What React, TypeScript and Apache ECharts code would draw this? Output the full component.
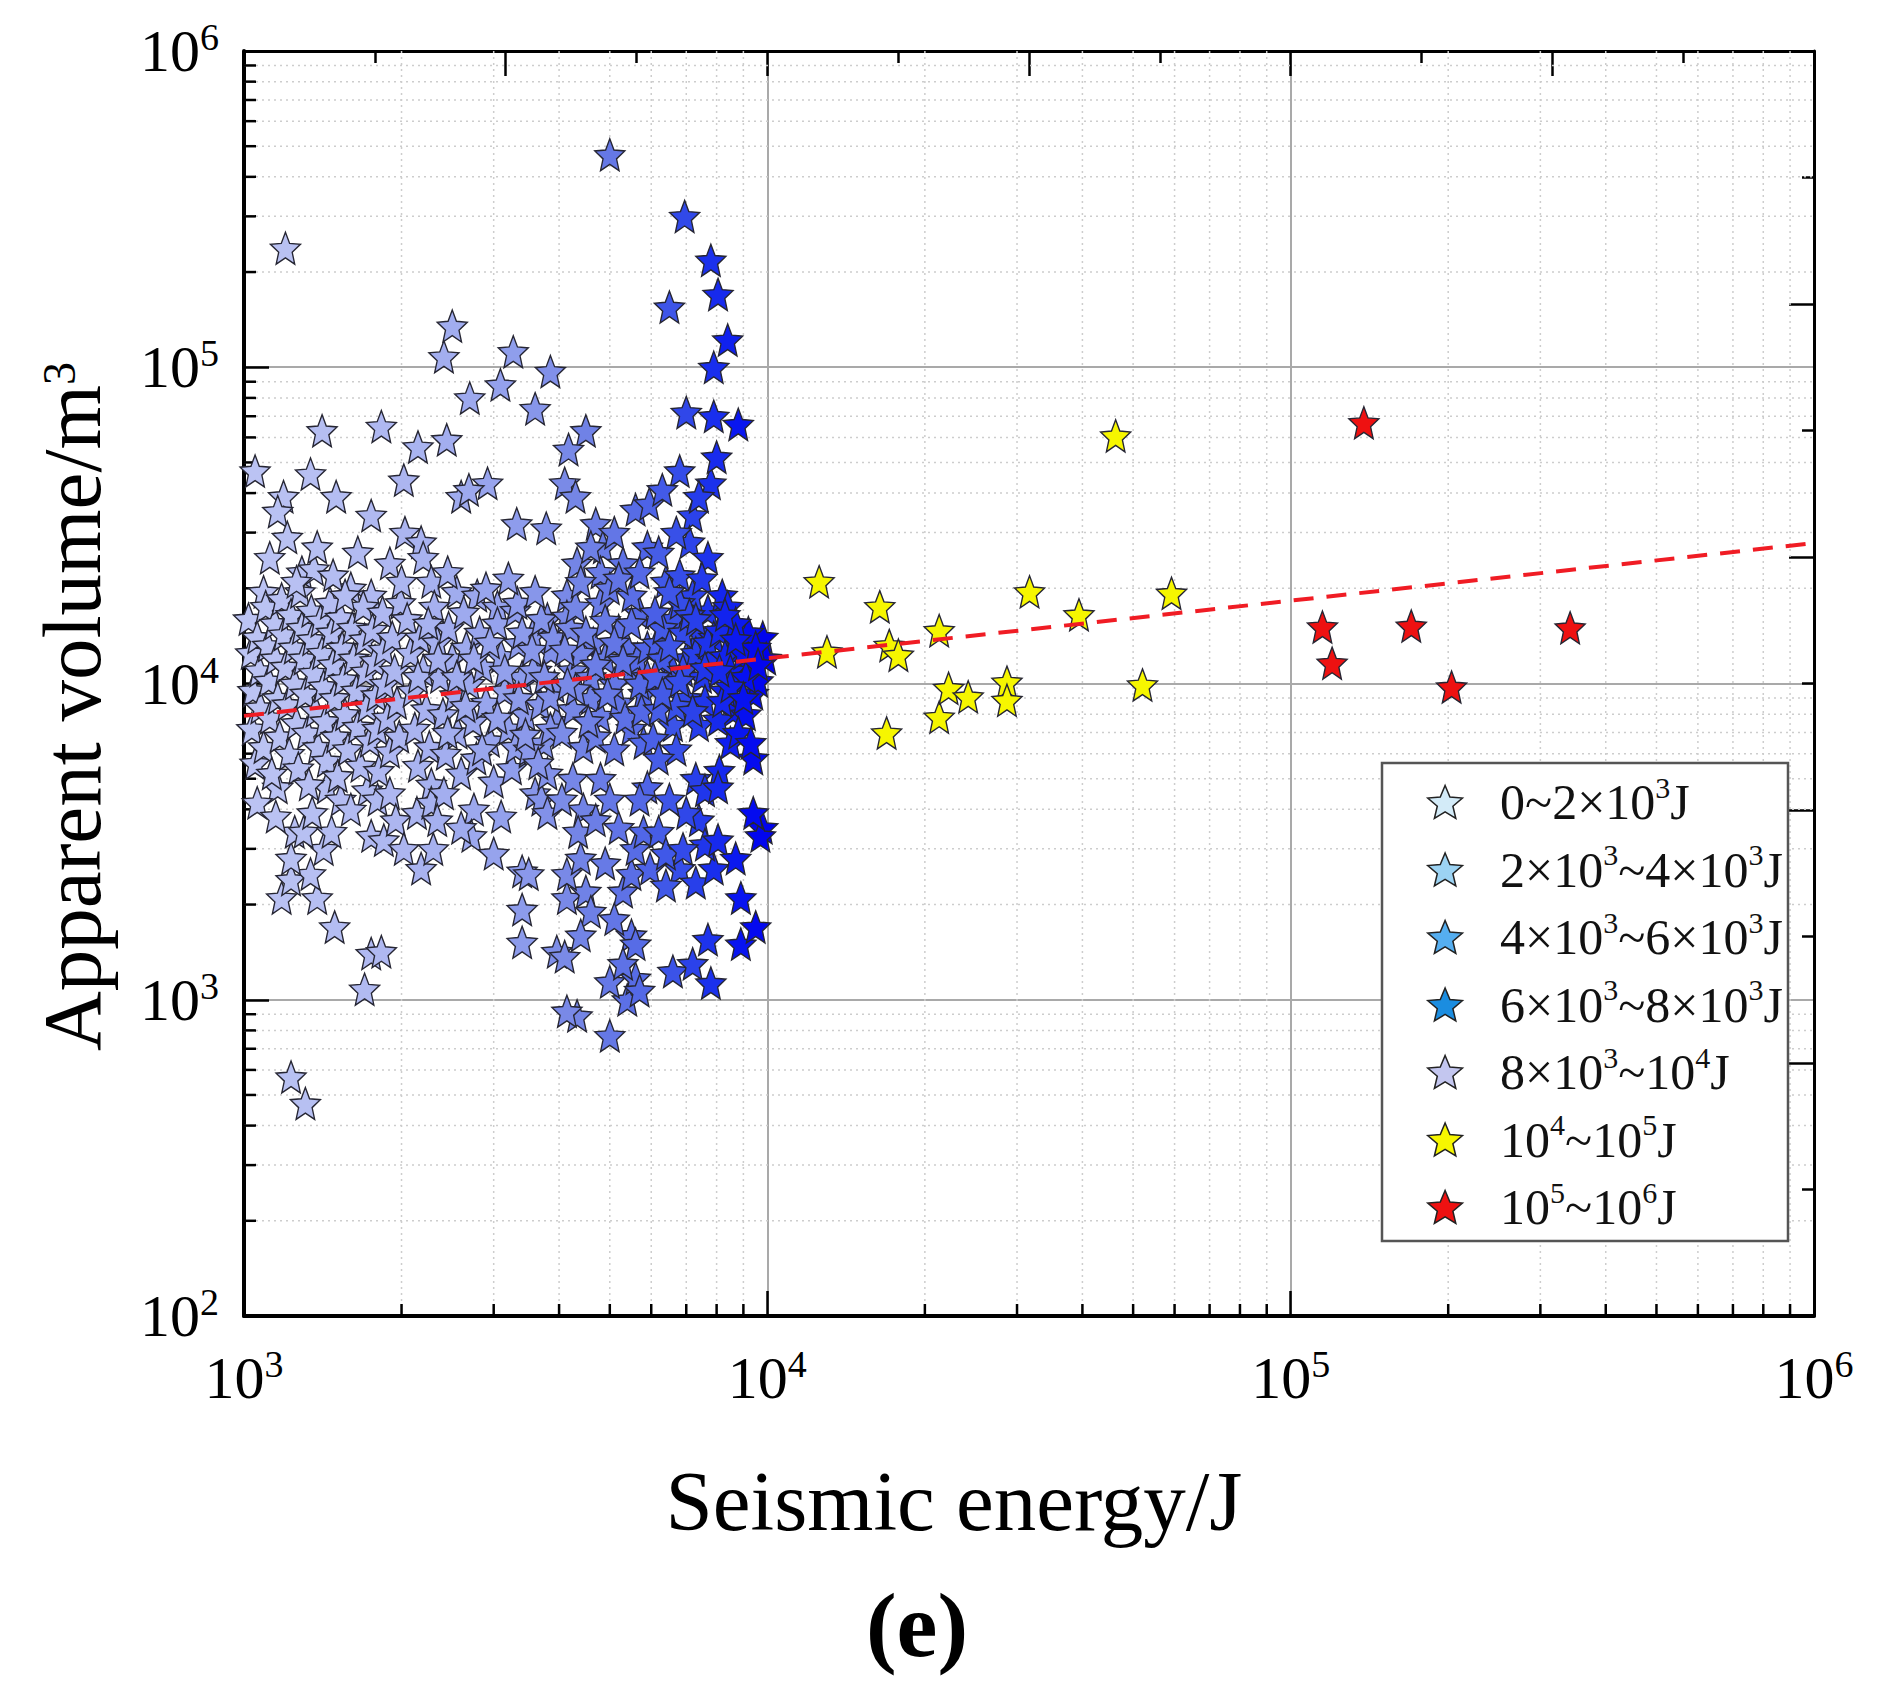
import React, { useEffect, useRef } from 'react';
import * as echarts from 'echarts';

const FONT = '"Liberation Serif", "Times New Roman", Times, serif';
const STAR =
  'path://M50,0 L63.23,31.8 L97.55,34.55 L71.4,56.95 L79.39,90.45 L50,72.5 L20.61,90.45 L28.6,56.95 L2.45,34.55 L36.77,31.8 Z';

const SERIES_NAMES = ['0~2×10³J', '2×10³~4×10³J', '4×10³~6×10³J', '6×10³~8×10³J', '8×10³~10⁴J', '10⁴~10⁵J', '10⁵~10⁶J'];
const LEGEND_COLORS = ['#d3ebf8', '#9cd3f3', '#55aef0', '#1b8de0', '#c3c6ef', '#f6f600', '#ee1111'];
const BLUE_RAMP = ['#bcc4f3', '#aab4f0', '#909eec', '#7384e6', '#5a6ee6', '#3a52e8', '#1c32ec', '#0814f0', '#0000ee'];
const YELLOW = '#f6f600';
const RED = '#ee1111';

const X_EXPONENTS = [3, 4, 5, 6];
const Y_EXPONENTS = [2, 3, 4, 5, 6];
const X_MIN = 1e3;
const X_MAX = 1e6;
const Y_MIN = 1e2;
const Y_MAX = 1e6;
const MINOR_STEPS = [2, 3, 4, 5, 6, 7, 8, 9];
const X_DECADES = [1e3, 1e4, 1e5];
const Y_DECADES = [1e2, 1e3, 1e4, 1e5];

const FIT_LINE = [
  [1000, 7900],
  [1000000, 27800],
];

const BIN_A = [
  [1200, 238000], [1050, 47000], [1190, 39000], [1160, 35000], [1210, 29000], [1340, 46000], [1410, 63000],
  [1500, 39000], [1750, 34000], [1830, 65000], [1090, 19500], [1290, 22500], [1360, 23000], [1750, 19000],
  [1230, 570], [1310, 470], [1700, 1080], [1750, 1400], [1830, 1420], [1490, 1700], [1380, 2100], [1180, 2100],
  [1230, 2400], [1340, 2500], [1230, 2800], [1420, 3000], [1250, 3400], [1300, 3400], [1470, 3400], [1160, 4700],
  [1440, 4700], [1530, 4300], [1720, 4600], [1800, 4300], [1750, 3300], [1850, 3200],
  [1020, 16000], [1030, 12500], [1040, 9500], [1035, 7200], [1050, 5600], [1060, 14000], [1070, 11000],
  [1075, 8400], [1090, 6300], [1100, 17500], [1110, 13200], [1115, 10200], [1120, 7800], [1130, 5200],
  [1145, 15500], [1150, 12000], [1160, 9000], [1170, 6800], [1180, 18500], [1190, 14300], [1200, 11300],
  [1210, 8600], [1220, 6000], [1230, 16500], [1245, 13000], [1250, 10000], [1260, 7500], [1270, 5400],
  [1280, 19500], [1290, 15000], [1300, 12000], [1310, 9300], [1320, 7000], [1330, 4800], [1345, 17000],
  [1350, 13800], [1360, 10800], [1370, 8200], [1385, 6300], [1400, 15800], [1410, 12500], [1420, 9800],
  [1430, 7600], [1440, 5700], [1460, 18000], [1470, 14500], [1480, 11500], [1490, 9000], [1500, 6800],
  [1510, 5100], [1530, 16200], [1540, 13000], [1550, 10300], [1560, 8000], [1580, 6200], [1600, 20000],
  [1610, 15000], [1620, 12000], [1640, 9500], [1650, 7300], [1670, 5500], [1690, 17500], [1700, 13800],
  [1710, 10900], [1720, 8500], [1740, 6600], [1760, 14800], [1780, 11800], [1790, 9200], [1800, 7200],
  [1810, 5300], [1840, 16800], [1850, 12800], [1860, 10000], [1880, 7800], [1900, 6100], [1920, 14000],
  [1940, 11000], [1960, 8700], [1980, 6800], [1990, 18000],
  [1120, 25000], [1380, 27000], [1650, 26000], [1900, 24000], [1260, 21000], [1480, 22000], [1560, 19000],
  [1060, 4200], [1150, 3800], [1350, 3900], [1600, 4000], [1900, 4500], [1950, 3700],
];

const BIN_B = [
  [2500, 135000], [2410, 108000], [3270, 112000], [3090, 88000], [2700, 80000], [3850, 97000], [3600, 74000],
  [2150, 56000], [2440, 59000], [2920, 43000], [2600, 39000], [2690, 41000], [3320, 32000], [2030, 30000],
  [3780, 31000], [2020, 44000], [2180, 28000], [2200, 25000], [2280, 21000], [2550, 19500], [2790, 19000],
  [3050, 17500], [2000, 21000],
  [2050, 16000], [2080, 12500], [2100, 9500], [2120, 7200], [2150, 5500], [2170, 14000], [2200, 11000],
  [2230, 8300], [2260, 6300], [2280, 4800], [2310, 17500], [2340, 13500], [2370, 10500], [2400, 8000],
  [2430, 6000], [2460, 15000], [2500, 12000], [2530, 9200], [2560, 7000], [2600, 5200], [2630, 16800],
  [2660, 13000], [2700, 10000], [2740, 7600], [2780, 5800], [2820, 14500], [2860, 11300], [2900, 8700],
  [2950, 6600], [3000, 4900], [3050, 15500], [3100, 12200], [3150, 9500], [3200, 7200], [3250, 5400],
  [3300, 17000], [3350, 13400], [3400, 10500], [3450, 8000], [3500, 6100], [3560, 14200], [3620, 11000],
  [3680, 8600], [3740, 6500], [3800, 16000], [3860, 12700], [3920, 9800], [3960, 7600],
  [2140, 3900], [2280, 4200], [2410, 4500], [2750, 4000], [2720, 3300], [2020, 3000], [2180, 2600],
  [2300, 3000], [2340, 3700], [3400, 2550], [3400, 1930], [3500, 2500], [3600, 4500], [3700, 4300],
  [3800, 3900], [3300, 6300], [3500, 6200], [3400, 14500], [3700, 16000], [3330, 18000], [3570, 11000],
  [3850, 9100], [3400, 1520], [3960, 1420],
  [2900, 20000], [3200, 21500], [3600, 19500], [2450, 22500], [3100, 3800], [2600, 3500], [3800, 5200],
  [3000, 2900],
  [2150, 10500], [2350, 12000], [2550, 10500], [2750, 12000], [2950, 13500], [3150, 11000], [3350, 9000],
  [3550, 12800], [3750, 10500], [3900, 14000], [2250, 15500], [2650, 8500], [3050, 7800], [3450, 6900],
  [3850, 7200], [2450, 7000], [2850, 6200], [3650, 5600],
];

const BIN_C = [
  [5000, 470000], [4500, 63000], [4170, 55000], [4100, 43000], [4300, 39000], [5600, 35500], [4700, 32000],
  [4330, 24000], [4850, 27000], [5300, 24000], [5900, 27000], [4800, 22500], [4140, 19000], [5950, 37000],
  [4800, 18000], [4140, 16300], [5700, 16700], [5200, 14700], [4650, 13400], [4250, 11000], [5500, 11000],
  [4600, 9000], [4250, 8300], [4800, 7900], [5200, 8700], [5800, 9300], [4050, 7000], [4450, 6300],
  [4250, 5000], [4800, 5000], [5000, 4300], [4450, 4000], [4050, 4300], [5900, 4700], [5700, 4300],
  [4140, 2100], [4500, 2200], [4140, 2500], [4400, 2800], [5300, 2200], [5500, 2500], [5970, 2600],
  [5600, 3000], [5800, 3400], [4100, 1370], [4330, 890], [4140, 920], [5000, 770], [5400, 1000],
  [5000, 1140], [5600, 1170], [5700, 1070], [5500, 1600], [5600, 1500],
  [4200, 15000], [4400, 12500], [4600, 10500], [4900, 12000], [5100, 10000], [5400, 13000], [5650, 12000],
  [5900, 10500], [4300, 17500], [5000, 20000], [5500, 19000], [4700, 6800], [5100, 6200], [5500, 7200],
  [5800, 6500], [4350, 3400], [4700, 3700], [5200, 3500], [4900, 2700], [4600, 1900], [5100, 1800],
  [4400, 1600], [5300, 1300],
  [4100, 12800], [4300, 9600], [4500, 14500], [4700, 11500], [4900, 15800], [5100, 13500], [5300, 11800],
  [5500, 15500], [5700, 10000], [5900, 13000], [4150, 10000], [4550, 7600], [4950, 9300], [5350, 7800],
  [5750, 8200], [4400, 21000], [5200, 21500], [5700, 22500], [4600, 27000], [5100, 30000],
];

const BIN_D = [
  [6950, 300000], [7800, 218000], [6500, 155000], [7900, 100000], [7000, 72000], [7900, 70000],
  [6800, 47000], [7800, 43000], [6300, 41000], [7200, 34000], [7100, 28000], [7700, 25000], [6400, 21000],
  [6800, 22000],
  [7400, 14500], [7000, 12000], [6600, 11000], [7000, 9000], [7400, 7400], [6600, 7400], [6050, 6700],
  [6200, 8300], [6150, 13400], [6600, 16000], [7700, 17000], [6300, 15000], [7200, 19000], [6800, 18000],
  [7500, 10500], [6400, 10000], [7300, 5000], [6700, 6200], [6200, 5800], [7300, 12500], [6900, 14500],
  [6800, 2600], [7300, 2350], [7900, 2600], [7400, 3700], [7000, 3900], [6200, 3400], [6400, 2900],
  [6600, 1230], [7200, 1300], [7800, 1130], [7700, 1550], [6400, 2300], [7600, 3100], [6900, 3000],
  [6500, 4300], [7600, 4600],
  [6300, 12000], [7800, 12000], [7100, 16500], [6700, 8500], [7600, 8800], [6100, 10500], [7900, 14000],
  [6100, 16800], [6500, 13200], [6900, 11000], [7300, 16000], [7700, 13500], [6300, 9300], [6800, 10200],
  [7200, 8200], [7600, 11200], [6500, 19500], [7500, 21500], [6200, 26000], [6700, 30000], [7400, 39000],
];

const BIN_E = [
  [8050, 170000], [8400, 122000], [8800, 66000], [8000, 52000], [8200, 19000], [8400, 17500],
  [9800, 14000], [9950, 12000], [9400, 9300], [8600, 9000], [8600, 8200], [8050, 7700], [8900, 10800],
  [8900, 13000], [8100, 14700], [9300, 11500], [8300, 12200], [9600, 10200],
  [9400, 5800], [8100, 5300], [8050, 4700], [9800, 3500], [9700, 3300], [8050, 3200], [8700, 2800],
  [8900, 2100], [8900, 1500], [9500, 1700], [8500, 6500], [9100, 8000], [9400, 3900],
  [8500, 11000], [9000, 12500], [9200, 14500], [8700, 15500], [9500, 13000], [8300, 9500], [8800, 7000],
  [9300, 6500], [8200, 8800],
  [8300, 16500], [8700, 13800], [9100, 10500], [9600, 11500], [8500, 9800], [9000, 9000], [8100, 11000],
];

const BIN_YELLOW = [
  [46300, 60700], [12560, 21000], [13000, 12600], [16400, 17500], [17100, 13200], [17800, 12300],
  [16900, 6980], [21300, 14700], [21300, 7830], [22200, 9660], [24200, 9080], [28700, 10100],
  [28700, 8850], [31700, 19500], [39400, 16500], [52100, 9900], [59200, 19300],
];

const BIN_RED = [
  [138000, 66800], [115000, 15100], [120000, 11600], [170000, 15200], [203000, 9750], [342000, 15000],
];

const SUP_DIGITS: Record<string, string> = {
  '⁰': '0', '¹': '1', '²': '2', '³': '3', '⁴': '4', '⁵': '5', '⁶': '6', '⁷': '7', '⁸': '8', '⁹': '9',
};
const toRich = (name: string) => name.replace(/[⁰¹²³⁴⁵⁶⁷⁸⁹]/g, (c) => `{s|${SUP_DIGITS[c]}}`);

const tickRich = {
  b: { fontFamily: FONT, fontSize: 60, lineHeight: 66, color: '#000' },
  s: { fontFamily: FONT, fontSize: 38, lineHeight: 30, verticalAlign: 'top', color: '#000' },
};

function buildOption() {
  const minorX: number[][] = [];
  X_DECADES.forEach((d) => MINOR_STEPS.forEach((m) => minorX.push([m * d, Y_MIN])));
  const minorY: number[][] = [];
  Y_DECADES.forEach((d) => MINOR_STEPS.forEach((m) => minorY.push([X_MIN, m * d])));

  const bins = [BIN_A, BIN_B, BIN_C, BIN_D, BIN_E, BIN_YELLOW, BIN_RED];
  const scatterSeries = bins.map((data, i) => ({
    type: 'scatter',
    name: SERIES_NAMES[i],
    data,
    symbol: STAR,
    symbolSize: [30, 32],
    symbolKeepAspect: false,
    silent: true,
    z: 2,
    itemStyle: {
      color: i === 5 ? YELLOW : i === 6 ? RED : LEGEND_COLORS[i],
      borderColor: '#262633',
      borderWidth: 1.4,
      opacity: 1,
    },
  }));

  const axisLineStyle = (w: number) => ({ show: true, onZero: false, lineStyle: { color: '#000', width: w } });

  return {
    animation: false,
    backgroundColor: '#ffffff',
    grid: { left: 244, right: 70, top: 51, bottom: 390, containLabel: false },
    xAxis: [
      {
        type: 'log',
        logBase: 10,
        min: X_MIN,
        max: X_MAX,
        position: 'bottom',
        axisLine: axisLineStyle(4),
        axisTick: { show: true, inside: true, length: 25, lineStyle: { color: '#000', width: 2.5 } },
        axisLabel: {
          show: true,
          interval: 0,
          margin: 29,
          formatter: (v: number) => {
            const e = Math.round(Math.log10(v));
            return X_EXPONENTS.includes(e) ? `{b|10}{s|${e}}` : '';
          },
          rich: tickRich,
        },
        splitLine: { show: true, lineStyle: { color: '#a9a9a9', width: 2 } },
        name: 'Seismic energy/J',
        nameLocation: 'middle',
        nameGap: 135,
        nameTextStyle: { fontFamily: FONT, fontSize: 85, color: '#000', lineHeight: 100, padding: [0, 150, 0, 0] },
      },
      {
        type: 'value',
        min: 0,
        max: 6,
        interval: 1,
        position: 'top',
        axisLine: axisLineStyle(3),
        axisTick: { show: true, inside: true, length: 25, lineStyle: { color: '#000', width: 2.5 } },
        minorTick: { show: true, splitNumber: 2, length: 12, lineStyle: { color: '#000', width: 2.5 } },
        axisLabel: { show: false },
        splitLine: { show: false },
        minorSplitLine: { show: false },
      },
    ],
    yAxis: [
      {
        type: 'log',
        logBase: 10,
        min: Y_MIN,
        max: Y_MAX,
        position: 'left',
        axisLine: axisLineStyle(4),
        axisTick: { show: true, inside: true, length: 25, lineStyle: { color: '#000', width: 2.5 } },
        axisLabel: {
          show: true,
          interval: 0,
          margin: 25,
          formatter: (v: number) => {
            const e = Math.round(Math.log10(v));
            return Y_EXPONENTS.includes(e) ? `{b|10}{s|${e}}` : '';
          },
          rich: tickRich,
        },
        splitLine: { show: true, lineStyle: { color: '#a9a9a9', width: 2 } },
        name: '{t|Apparent volume/m}{u|3}',
        nameLocation: 'middle',
        nameGap: 122,
        nameTextStyle: {
          fontFamily: FONT,
          fontSize: 83,
          color: '#000',
          lineHeight: 100,
          padding: [0, 46, 0, 0],
          rich: {
            t: { fontFamily: FONT, fontSize: 83, lineHeight: 100, color: '#000' },
            u: { fontFamily: FONT, fontSize: 46, height: 74, lineHeight: 74, verticalAlign: 'top', color: '#000' },
          },
        },
      },
      {
        type: 'value',
        min: 0,
        max: 5,
        interval: 1,
        position: 'right',
        axisLine: axisLineStyle(3),
        axisTick: { show: true, inside: true, length: 25, lineStyle: { color: '#000', width: 2.5 } },
        minorTick: { show: true, splitNumber: 2, length: 12, lineStyle: { color: '#000', width: 2.5 } },
        axisLabel: { show: false },
        splitLine: { show: false },
        minorSplitLine: { show: false },
      },
    ],
    visualMap: [
      {
        type: 'continuous',
        show: false,
        seriesIndex: [0, 1, 2, 3, 4],
        dimension: 0,
        min: 1000,
        max: 10000,
        inRange: { color: BLUE_RAMP },
      },
    ],
    legend: {
      data: SERIES_NAMES.map((n, i) => ({
        name: n,
        itemStyle: { color: LEGEND_COLORS[i], borderColor: '#222', borderWidth: 1.5 },
      })),
      orient: 'vertical',
      left: 1427,
      top: 772,
      itemWidth: 68,
      itemHeight: 33,
      itemGap: 7.5,
      padding: 0,
      selectedMode: false,
      symbolKeepAspect: true,
      formatter: (name: string) => toRich(name),
      textStyle: {
        fontFamily: FONT,
        fontSize: 50,
        lineHeight: 60,
        color: '#111',
        padding: [0, 0, 0, 16],
        rich: {
          s: { fontFamily: FONT, fontSize: 30, lineHeight: 24, verticalAlign: 'top', color: '#111' },
        },
      },
      z: 10,
    },
    graphic: [
      {
        type: 'rect',
        z: 5,
        silent: true,
        shape: { x: 1382, y: 763, width: 406, height: 478 },
        style: { fill: '#ffffff', stroke: '#555', lineWidth: 2.5 },
      },
      {
        type: 'text',
        z: 5,
        x: 917,
        y: 1625,
        style: {
          text: '(e)',
          fontFamily: FONT,
          fontSize: 92,
          fontWeight: 'bold',
          fill: '#000',
          align: 'center',
          verticalAlign: 'middle',
          textAlign: 'center',
          textVerticalAlign: 'middle',
        },
      },
    ],
    series: [
      ...scatterSeries,
      {
        type: 'line',
        name: 'fit',
        data: FIT_LINE,
        symbol: 'none',
        silent: true,
        z: 3,
        lineStyle: { color: '#f01c24', width: 4, type: [20, 13] },
      },
      {
        type: 'custom',
        name: 'minor-x',
        silent: true,
        z: 1,
        data: minorX,
        renderItem: (_p: any, api: any) => {
          const v = api.value(0);
          const b = api.coord([v, Y_MIN]);
          const t = api.coord([v, Y_MAX]);
          return {
            type: 'group',
            children: [
              { type: 'line', shape: { x1: b[0], y1: t[1], x2: b[0], y2: b[1] }, style: { stroke: '#cdcdcd', lineWidth: 1.5, lineDash: [2, 4] } },
              { type: 'line', shape: { x1: b[0], y1: b[1], x2: b[0], y2: b[1] - 12 }, style: { stroke: '#000', lineWidth: 2.5 } },
            ],
          };
        },
      },
      {
        type: 'custom',
        name: 'minor-y',
        silent: true,
        z: 1,
        data: minorY,
        renderItem: (_p: any, api: any) => {
          const v = api.value(1);
          const l = api.coord([X_MIN, v]);
          const r = api.coord([X_MAX, v]);
          return {
            type: 'group',
            children: [
              { type: 'line', shape: { x1: l[0], y1: l[1], x2: r[0], y2: l[1] }, style: { stroke: '#cdcdcd', lineWidth: 1.5, lineDash: [2, 4] } },
              { type: 'line', shape: { x1: l[0], y1: l[1], x2: l[0] + 12, y2: l[1] }, style: { stroke: '#000', lineWidth: 2.5 } },
            ],
          };
        },
      },
    ],
  };
}

export default function App() {
  const ref = useRef<HTMLDivElement>(null);
  useEffect(() => {
    if (!ref.current) return;
    const chart = echarts.init(ref.current, null, { renderer: 'svg' });
    chart.setOption(buildOption() as any);
    return () => chart.dispose();
  }, []);
  return (
    <div
      ref={ref}
      style={{ position: 'absolute', left: 0, top: 0, width: 1884, height: 1706, background: '#fff' }}
    />
  );
}
